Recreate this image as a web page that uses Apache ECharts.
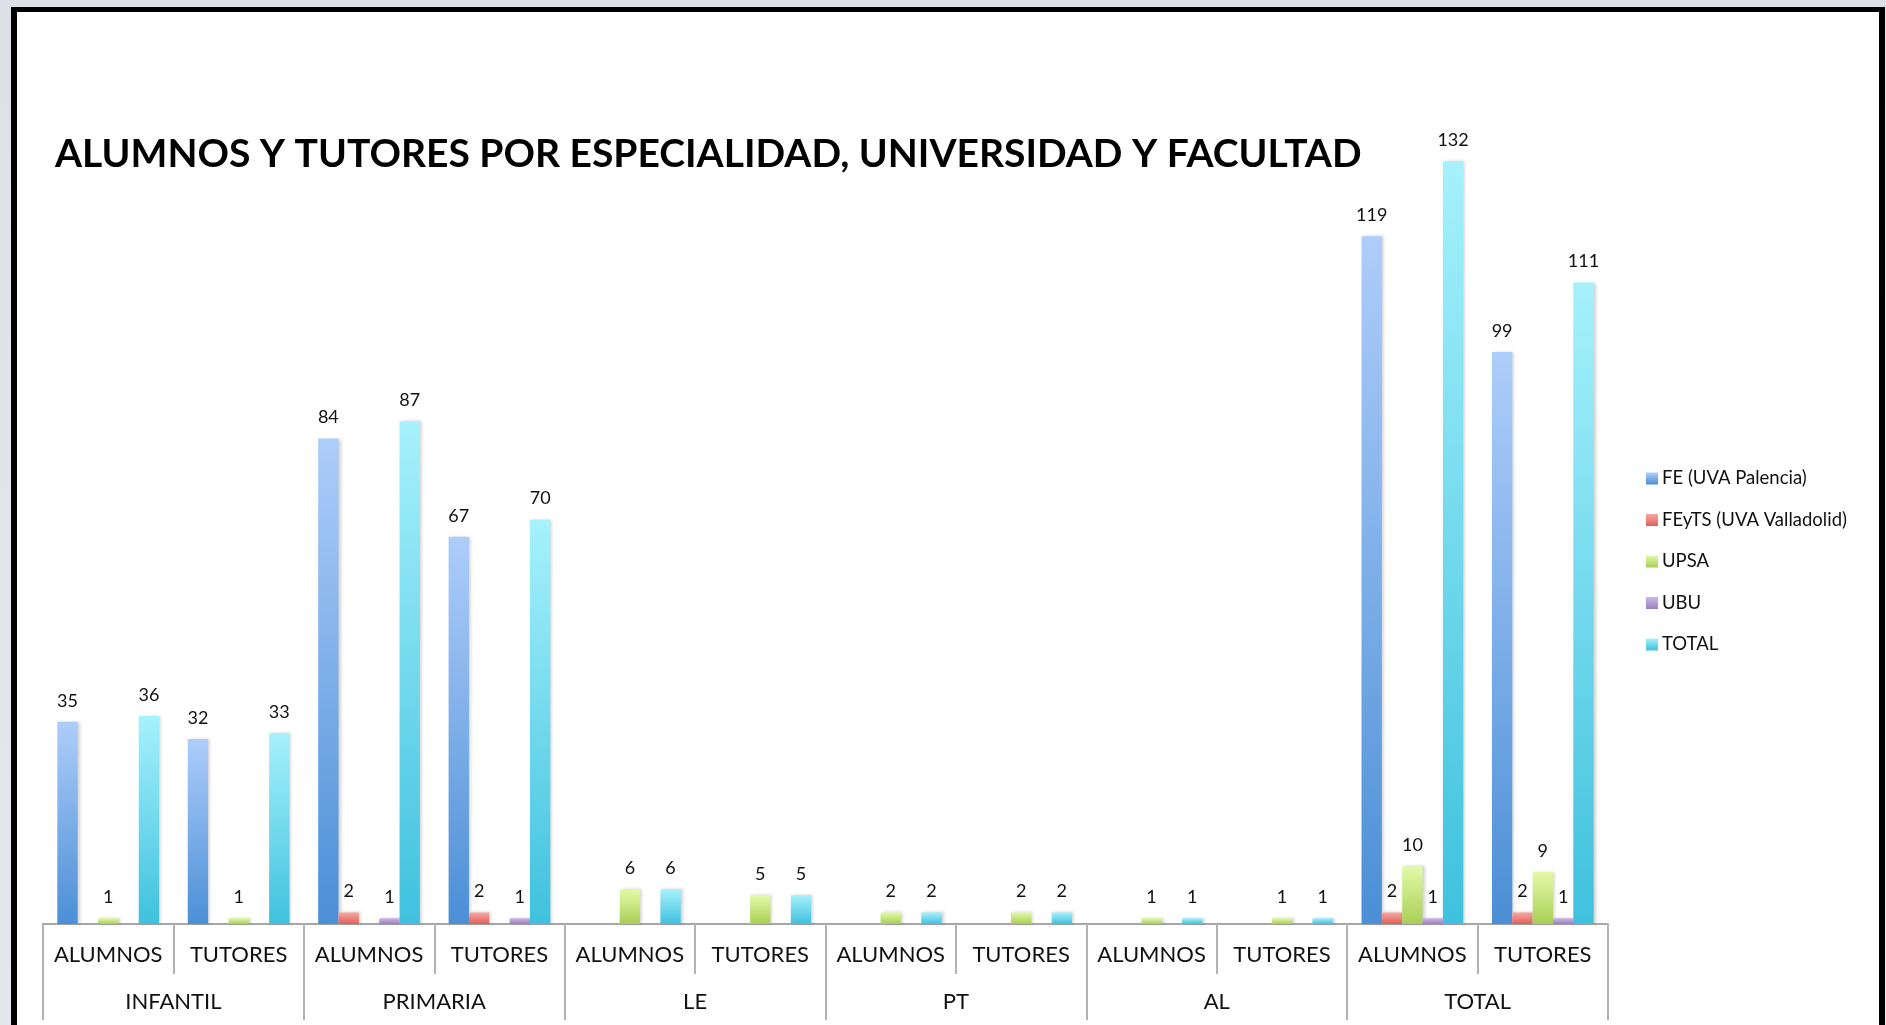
<!DOCTYPE html>
<html>
<head>
<meta charset="utf-8">
<script src="https://cdn.jsdelivr.net/npm/echarts@6/dist/echarts.min.js"></script>
<style>
html,body{margin:0;padding:0;width:1886px;height:1025px;overflow:hidden;background:linear-gradient(#dde0e5,#e4e7eb);}
#frame{position:absolute;left:11px;top:7px;width:1862px;height:1040px;background:#fff;border-top:5px solid #000;border-left:6px solid #000;border-right:6px solid #000;}
#chart{position:absolute;left:0;top:0;width:1886px;height:1025px;}
</style>
</head>
<body>
<div id="frame"></div>
<div id="chart"></div>
<script>
const titleText = 'ALUMNOS Y TUTORES POR ESPECIALIDAD, UNIVERSIDAD Y FACULTAD';
const subCategories = ['ALUMNOS','TUTORES','ALUMNOS','TUTORES','ALUMNOS','TUTORES','ALUMNOS','TUTORES','ALUMNOS','TUTORES','ALUMNOS','TUTORES'];
const groups = ['INFANTIL','PRIMARIA','LE','PT','AL','TOTAL'];
const seriesNames = ['FE (UVA Palencia)','FEyTS (UVA Valladolid)','UPSA','UBU','TOTAL'];
const feValues    = [35, 32, 84, 67, null, null, null, null, null, null, 119, 99];
const feytsValues = [null, null, 2, 2, null, null, null, null, null, null, 2, 2];
const upsaValues  = [1, 1, null, null, 6, 5, 2, 2, 1, 1, 10, 9];
const ubuValues   = [null, null, 1, 1, null, null, null, null, null, null, 1, 1];
const totalValues = [36, 33, 87, 70, 6, 5, 2, 2, 1, 1, 132, 111];

const gradients = [
  ['#aecdfa', '#4b8fd6'],
  ['#f7a8a3', '#e0605a'],
  ['#e3faa8', '#a9cf55'],
  ['#ccb8e4', '#9a80c6'],
  ['#a6f1fc', '#3fc1de']
];
const allValues = [feValues, feytsValues, upsaValues, ubuValues, totalValues];

function grad(c) {
  return new echarts.graphic.LinearGradient(0, 0, 0, 1, [
    {offset: 0, color: c[0]}, {offset: 1, color: c[1]}
  ]);
}

const chart = echarts.init(document.getElementById('chart'));
const FONT = 'Lato, "Open Sans", sans-serif';
chart.setOption({
  animation: false,
  backgroundColor: 'transparent',
  title: {
    text: titleText,
    left: 50, top: 130,
    textStyle: {fontFamily: FONT, fontWeight: 'bold', fontSize: 39, color: '#000'}
  },
  legend: {
    orient: 'vertical',
    left: 1641, top: 464,
    itemWidth: 12, itemHeight: 12, itemGap: 22.5,
    icon: 'rect',
    data: seriesNames,
    textStyle: {fontFamily: FONT, fontSize: 18.5, color: '#111', padding: [0, 0, 0, -1]}
  },
  grid: {left: 43, right: 278, top: 115, bottom: 101, containLabel: false},
  xAxis: [
    {
      type: 'category', data: subCategories, position: 'bottom',
      axisLine: {lineStyle: {color: '#a6a6a6', width: 2}},
      axisTick: {show: true, interval: 0, length: 50, lineStyle: {color: '#b3b3b3', width: 2}},
      axisLabel: {interval: 0, margin: 20, fontFamily: FONT, fontSize: 22, color: '#111'}
    },
    {
      type: 'category', data: groups, position: 'bottom', gridIndex: 0,
      axisLine: {show: false},
      axisTick: {show: true, interval: 0, length: 96, lineStyle: {color: '#b3b3b3', width: 2}},
      axisLabel: {interval: 0, margin: 67, fontFamily: FONT, fontSize: 22, color: '#111'}
    }
  ],
  yAxis: {type: 'value', min: 0, max: 140, show: false, splitLine: {show: false}},
  series: seriesNames.map((name, i) => ({
    name: name,
    type: 'bar',
    xAxisIndex: 0,
    data: allValues[i],
    barGap: '0%',
    barCategoryGap: '22%',
    itemStyle: {color: grad(gradients[i]), shadowColor: 'rgba(0,0,0,0.18)', shadowBlur: 3, shadowOffsetX: 2},
    label: {show: true, position: 'top', distance: 12, fontFamily: FONT, fontSize: 18, color: '#111'}
  }))
});
</script>
</body>
</html>
